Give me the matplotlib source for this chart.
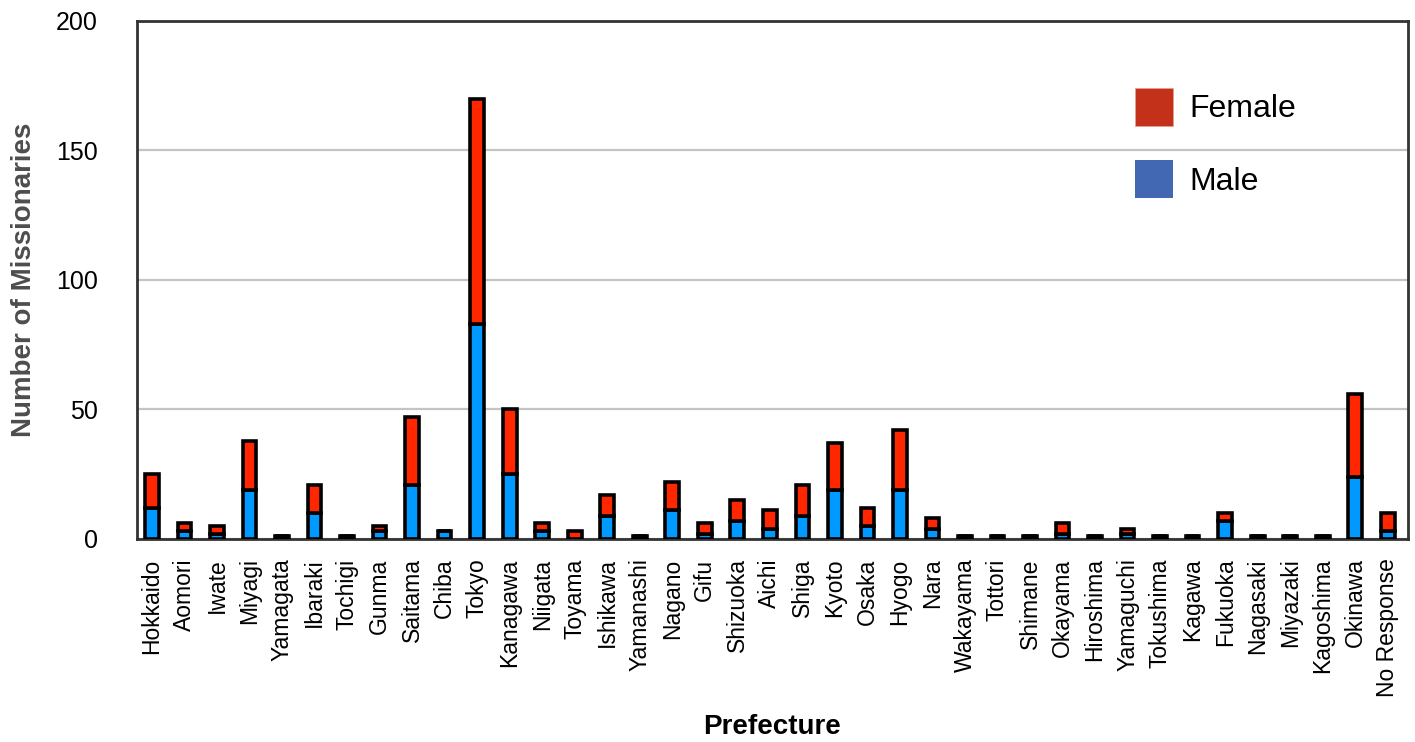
import matplotlib.pyplot as plt
from matplotlib.patches import Patch
import numpy as np

plt.rcParams['font.family'] = ['Liberation Sans', 'DejaVu Sans']

prefectures = ["Hokkaido", "Aomori", "Iwate", "Miyagi", "Yamagata", "Ibaraki", "Tochigi",
               "Gunma", "Saitama", "Chiba", "Tokyo", "Kanagawa", "Niigata", "Toyama",
               "Ishikawa", "Yamanashi", "Nagano", "Gifu", "Shizuoka", "Aichi", "Shiga",
               "Kyoto", "Osaka", "Hyogo", "Nara", "Wakayama", "Tottori", "Shimane",
               "Okayama", "Hiroshima", "Yamaguchi", "Tokushima", "Kagawa", "Fukuoka",
               "Nagasaki", "Miyazaki", "Kagoshima", "Okinawa", "No Response"]
male = [12, 3, 2, 19, 1, 10, 1, 3, 21, 3, 83, 25, 3, 0, 9, 1, 11, 2, 7, 4, 9,
        19, 5, 19, 4, 1, 1, 1, 2, 1, 2, 1, 1, 7, 1, 1, 1, 24, 3]
female = [13, 3, 3, 19, 0, 11, 0, 2, 26, 0, 87, 25, 3, 3, 8, 0, 11, 4, 8, 7, 12,
          18, 7, 23, 4, 0, 0, 0, 4, 0, 2, 0, 0, 3, 0, 0, 0, 32, 7]

x = np.arange(len(prefectures))

fig = plt.figure(figsize=(14.15, 7.42), dpi=100)
ax = fig.add_axes([0.0968, 0.2736, 0.8982, 0.6981])

ax.bar(x, male, width=0.42, color="#0099FF", edgecolor="black", linewidth=2.6, zorder=3)
ax.bar(x, female, width=0.42, bottom=male, color="#FF2600", edgecolor="black",
       linewidth=2.6, zorder=3)

ax.set_xlim(-0.46, len(prefectures) - 1 + 0.62)
ax.set_ylim(0, 200)
ax.set_yticks([0, 50, 100, 150, 200])
ax.yaxis.grid(True, color="#c4c4c4", linewidth=1.6, zorder=0)
ax.set_axisbelow(True)

ax.set_xticks(x)
ax.set_xticklabels(prefectures, rotation=90, fontsize=16.5)
ax.tick_params(axis="x", length=0, pad=14)
ax.tick_params(axis="y", length=0, pad=28, labelsize=18)

for s in ax.spines.values():
    s.set_color("#333333")
    s.set_linewidth(2)

ax.set_xlabel("Prefecture", fontsize=20, fontweight="bold", labelpad=12)
ax.set_ylabel("Number of Missionaries", fontsize=20, fontweight="bold",
              color="#4d4d4d", labelpad=14)

handles = [Patch(facecolor="#C4311A", edgecolor="#e8a090", linewidth=0.5),
           Patch(facecolor="#4268B3")]
ax.legend(handles, ["Female", "Male"], loc="upper left",
          bbox_to_anchor=(0.785, 0.871), frameon=False, fontsize=23,
          handlelength=1.19, handleheight=1.45, labelspacing=1.08,
          handletextpad=0.53, borderpad=0, borderaxespad=0)

fig.savefig("out.png", dpi=100)
